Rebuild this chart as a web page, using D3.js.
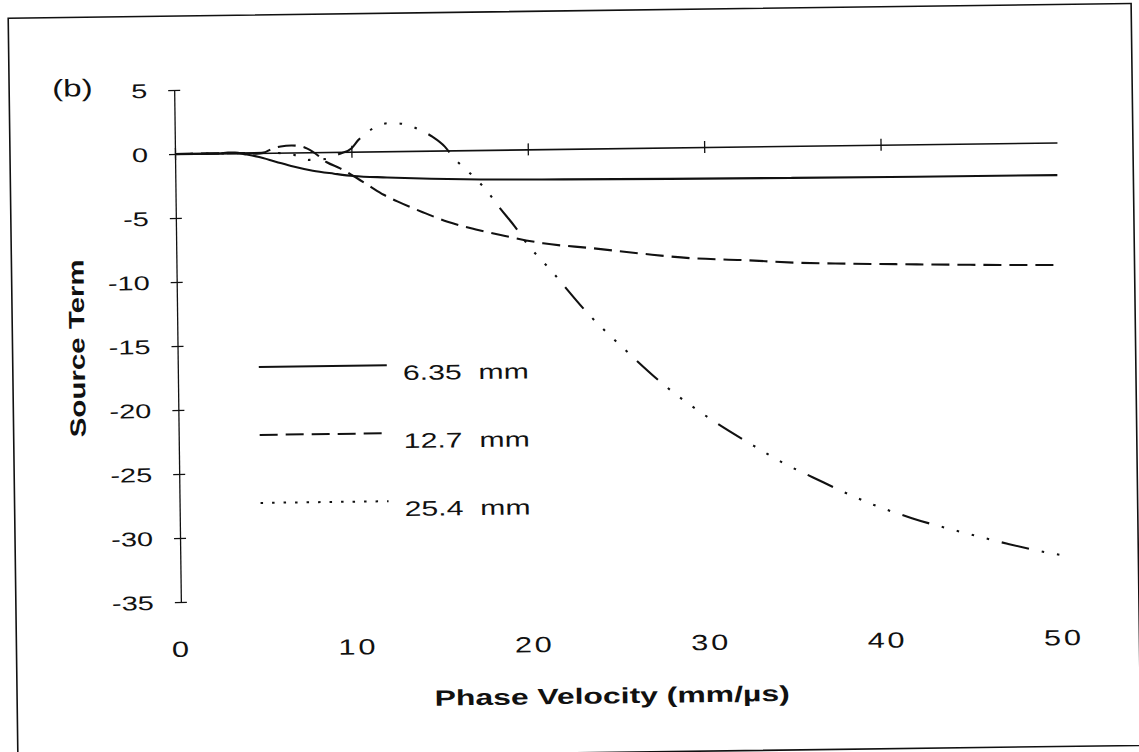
<!DOCTYPE html>
<html><head><meta charset="utf-8">
<script src="https://cdn.jsdelivr.net/npm/d3@7"></script>
<style>
html,body{margin:0;padding:0;background:#fff;}
svg{display:block;}
text{font-family:"Liberation Sans",Arial,Helvetica,sans-serif;fill:#111;}
</style>
</head><body>
<svg id="c" width="1139" height="752"></svg>
<script>
// ---- data ----
const xTicks = [0, 10, 20, 30, 40, 50];
const xTickLabels = ["0", "10", "20", "30", "40", "50"];
const yTicks = [5, 0, -5, -10, -15, -20, -25, -30, -35];
const yTickLabels = ["5", "0", "-5", "-10", "-15", "-20", "-25", "-30", "-35"];
const seriesNames = ["6.35  mm", "12.7  mm", "25.4  mm"];

const v635 = [0, 2.5, 3.0, 3.4, 4.0, 4.7, 5.7, 6.7, 7.8, 9.0, 10.1, 12, 14.5, 17.3, 22, 28, 35, 42, 50];
const s635 = [0, 0, 0.05, 0.05, -0.1, -0.3, -0.7, -1.1, -1.45, -1.7, -1.9, -2.05, -2.2, -2.3, -2.38, -2.45, -2.5, -2.53, -2.55];

const v127 = [0, 4.0, 4.6, 5.0, 5.5, 6.0, 6.6, 7.2, 7.8, 8.6, 9.35, 10.1, 11.0, 11.8, 12.6, 14.0, 15.4, 17.0, 18.4, 20.8, 23.6, 26.5, 29.3, 32.0, 35.2, 38.0, 41.3, 45.0, 50];
const s127 = [0, 0, -0.05, 0, 0.3, 0.48, 0.55, 0.45, 0.05, -0.8, -1.29, -1.9, -2.7, -3.4, -3.95, -4.8, -5.57, -6.2, -6.66, -7.35, -7.79, -8.28, -8.68, -8.86, -9.13, -9.25, -9.36, -9.47, -9.57];

const v254 = [0, 5, 6.5, 7.6, 8.5, 9.35, 10.0, 10.4, 11.24, 12.2, 13.0, 13.9, 14.6, 15.3, 15.8, 16.4, 17.0, 17.6, 18.4, 19.2, 19.8, 21.3, 23.3, 25.4, 27.6, 30.0, 32.6, 34.3, 35.9, 39.3, 41.5, 45.0, 46.9, 49.4, 50];
const s254 = [0, 0, -0.1, -0.6, -0.55, -0.15, 0.25, 0.9, 1.8, 2.2, 2.1, 1.63, 1.09, 0.3, -0.6, -1.4, -2.2, -3.1, -4.6, -6.0, -7.2, -9.6, -12.9, -15.8, -18.6, -21.1, -23.4, -24.8, -25.9, -28.1, -29.2, -30.6, -31.3, -32.1, -32.25];

// ---- drawing ----
const W = 1139, H = 752;
const svg = d3.select("#c");
svg.append("rect").attr("width", W).attr("height", H).attr("fill", "#fff");
const g = svg.append("g").attr("transform", "rotate(-0.75,175,154)");

const x = d3.scaleLinear().domain([0, 50]).range([175, 1057]);
const y = d3.scaleLinear().domain([-35, 5]).range([602, 90]);

// frame
g.append("rect").attr("x", 10).attr("y", 16).attr("width", 1123).attr("height", 742)
  .attr("fill", "none").attr("stroke", "#111").attr("stroke-width", 1.6);

// y axis
const yAxis = d3.axisLeft(y).tickValues(yTicks)
  .tickFormat(d => yTickLabels[yTicks.indexOf(d)]).tickSize(6).tickSizeOuter(0);
const ya = g.append("g").attr("transform", `translate(${x(0)},0)`).call(yAxis);
ya.select(".domain").attr("stroke", "#111").attr("stroke-width", 1.3);
ya.selectAll(".tick line").attr("x1", -6).attr("x2", 6).attr("stroke", "#111").attr("stroke-width", 1.3);
ya.selectAll(".tick text").attr("x", 0).attr("dy", "0.36em")
  .attr("text-anchor", "end")
  .attr("transform", "translate(-27,0) scale(1.45,1)")
  .style("font-size", "20px").style("font-family", "'Liberation Sans',Arial,sans-serif").attr("fill", "#111");

// x axis
const xAxis = d3.axisBottom(x).tickValues(xTicks)
  .tickFormat(d => xTickLabels[xTicks.indexOf(d)]).tickSize(6).tickSizeOuter(0);
const xa = g.append("g").attr("transform", `translate(0,${y(0)})`).call(xAxis);
xa.select(".domain").attr("stroke", "#111").attr("stroke-width", 1.6);
xa.selectAll(".tick line").attr("y1", -6).attr("y2", 6).attr("stroke", "#111").attr("stroke-width", 1.3)
  .attr("display", d => d === 50 ? "none" : null);
xa.selectAll(".tick text").attr("y", 0).attr("dy", "0.36em")
  .attr("transform", `translate(0,${649 - y(0)}) scale(1.4,1)`)
  .style("font-size", "22px").style("letter-spacing", "2px")
  .style("font-family", "'Liberation Sans',Arial,sans-serif").attr("fill", "#111");

// series
const series = [
  { v: v635, s: s635, dash: null, legDash: null },
  { v: v127, s: s127, dash: "18,8", legDash: "18,8" },
  { v: v254, s: s254, dash: "2.5,13,2.5,13,2.5,13,2.5,13,28,13", legDash: "2.5,9" }
];
const line = d3.line().x(d => x(d[0])).y(d => y(d[1])).curve(d3.curveMonotoneX);
series.forEach(sr => {
  const pts = sr.v.map((v, i) => [v, sr.s[i]]);
  g.append("path").attr("d", line(pts)).attr("fill", "none")
    .attr("stroke", "#111").attr("stroke-width", 2.1)
    .attr("stroke-dasharray", sr.dash);
});

// legend
const legY = [368, 436, 504];
series.forEach((sr, i) => {
  g.append("line").attr("x1", 256).attr("x2", 384).attr("y1", legY[i]).attr("y2", legY[i])
    .attr("stroke", "#111").attr("stroke-width", 2).attr("stroke-dasharray", sr.legDash);
  g.append("text").attr("transform", `translate(400,${legY[i] + 15}) scale(1.44,1)`)
    .style("font-size", "21px").style("white-space", "pre").text(seriesNames[i]);
});

// titles
g.append("text").attr("transform", "translate(605,709) scale(1.45,1)")
  .attr("text-anchor", "middle").style("font-size", "22px").style("font-weight", "bold")
  .text("Phase Velocity (mm/\u00b5s)");
g.append("text").attr("transform", "translate(82,347) rotate(-90) scale(1.34,1)")
  .attr("text-anchor", "middle").style("font-size", "22px").style("font-weight", "bold")
  .text("Source Term");
g.append("text").attr("transform", "translate(53,95) scale(1.38,1)")
  .style("font-size", "24px").text("(b)");
</script>
</body></html>
